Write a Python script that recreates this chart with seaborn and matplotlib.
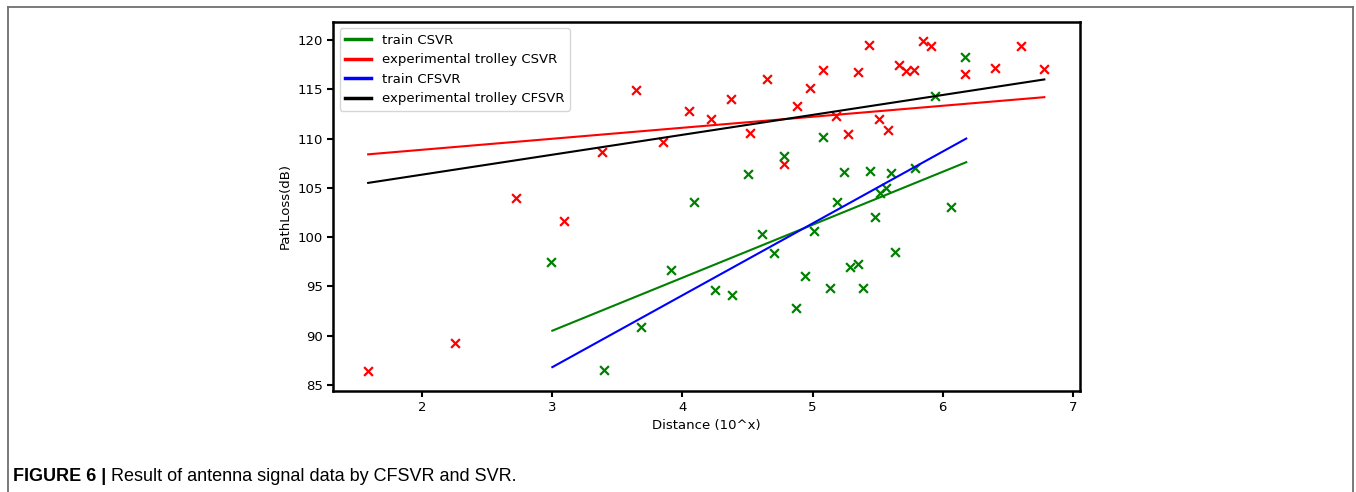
import matplotlib
matplotlib.use("Agg")
import matplotlib.pyplot as plt
import seaborn as sns
from matplotlib.lines import Line2D

# experimental trolley measurements (red x)
red_x = [1.585, 2.25, 2.72, 3.09, 3.38, 3.64, 3.85, 4.05, 4.22, 4.37, 4.52,
         4.65, 4.78, 4.88, 4.98, 5.08, 5.18, 5.27, 5.35, 5.43, 5.51, 5.58,
         5.66, 5.72, 5.78, 5.85, 5.91, 6.17, 6.40, 6.60, 6.78]
red_y = [86.4, 89.3, 104.0, 101.6, 108.6, 114.9, 109.7, 112.8, 112.0, 114.0, 110.6,
         116.0, 107.4, 113.3, 115.1, 117.0, 112.3, 110.5, 116.8, 119.5, 112.0, 110.9,
         117.5, 116.9, 117.0, 119.9, 119.4, 116.6, 117.2, 119.4, 117.1]

# training data (green x)
green_x = [2.99, 3.40, 3.68, 3.91, 4.09, 4.25, 4.38, 4.50, 4.61, 4.70, 4.78,
           4.87, 4.94, 5.01, 5.08, 5.13, 5.19, 5.24, 5.29, 5.35, 5.39, 5.44,
           5.48, 5.52, 5.56, 5.60, 5.63, 5.79, 5.94, 6.06, 6.17]
green_y = [97.5, 86.5, 90.9, 96.7, 103.6, 94.6, 94.1, 106.4, 100.3, 98.4, 108.2,
           92.8, 96.1, 100.6, 110.2, 94.8, 103.6, 106.6, 97.0, 97.3, 94.8, 106.7,
           102.0, 104.5, 105.0, 106.5, 98.5, 107.0, 114.3, 103.1, 118.3]

# fitted lines (start / end)
train_x = [3.0, 6.18]
train_csvr_y = [90.5, 107.6]
train_cfsvr_y = [86.8, 110.0]
exp_x = [1.585, 6.78]
exp_csvr_y = [108.4, 114.2]
exp_cfsvr_y = [105.5, 116.0]

line_labels = ["train CSVR", "experimental trolley CSVR",
               "train CFSVR", "experimental trolley CFSVR"]
line_colors = ["green", "red", "blue", "black"]

fig = plt.figure(figsize=(13.56, 4.92), dpi=100)
ax = fig.add_axes([333/1356, 1-390.5/492, (1080-333)/1356, (390.5-21.7)/492])

sns.scatterplot(x=red_x, y=red_y, marker="x", color="red", s=40,
                linewidth=1.6, ax=ax)
sns.scatterplot(x=green_x, y=green_y, marker="x", color="green", s=40,
                linewidth=1.6, ax=ax)
sns.lineplot(x=train_x, y=train_csvr_y, color="green", lw=1.5, ax=ax)
sns.lineplot(x=exp_x, y=exp_csvr_y, color="red", lw=1.5, ax=ax)
sns.lineplot(x=train_x, y=train_cfsvr_y, color="blue", lw=1.5, ax=ax)
sns.lineplot(x=exp_x, y=exp_cfsvr_y, color="black", lw=1.5, ax=ax)

ax.set_xlim(1.315, 7.054)
ax.set_ylim(84.43, 121.86)
ax.set_xticks([2, 3, 4, 5, 6, 7])
ax.set_yticks([85, 90, 95, 100, 105, 110, 115, 120])
ax.tick_params(labelsize=9.5, width=1.5, length=4)
for sp in ax.spines.values():
    sp.set_linewidth(1.8)
ax.set_xlabel("Distance (10^x)", fontsize=9.5)
ax.set_ylabel("PathLoss(dB)", fontsize=9.5)

handles = [Line2D([], [], color=c, lw=2.5) for c in line_colors]
ax.legend(handles, line_labels, loc="upper left", fontsize=9.5,
          handlelength=2.0, borderaxespad=0.5)

# figure frame (top, left, right)
gray = "#707070"
fig.add_artist(Line2D([8/1356, 1353/1356], [1-6.5/492, 1-6.5/492],
                      transform=fig.transFigure, color=gray, lw=1.3))
fig.add_artist(Line2D([8/1356, 8/1356], [0, 1-6.5/492],
                      transform=fig.transFigure, color=gray, lw=1.3))
fig.add_artist(Line2D([1353/1356, 1353/1356], [0, 1-6.5/492],
                      transform=fig.transFigure, color=gray, lw=1.3))

# caption
cap_y = 1 - 481/492
t1 = fig.text(13/1356, cap_y, "FIGURE 6 |", fontsize=13, fontweight="bold",
              family="Liberation Sans", va="baseline")
fig.canvas.draw()
bb = t1.get_window_extent(renderer=fig.canvas.get_renderer())
fig.text((bb.x1 + 5)/1356, cap_y, "Result of antenna signal data by CFSVR and SVR.",
         fontsize=13, family="Liberation Sans", va="baseline")

fig.savefig("out.png", dpi=100)
